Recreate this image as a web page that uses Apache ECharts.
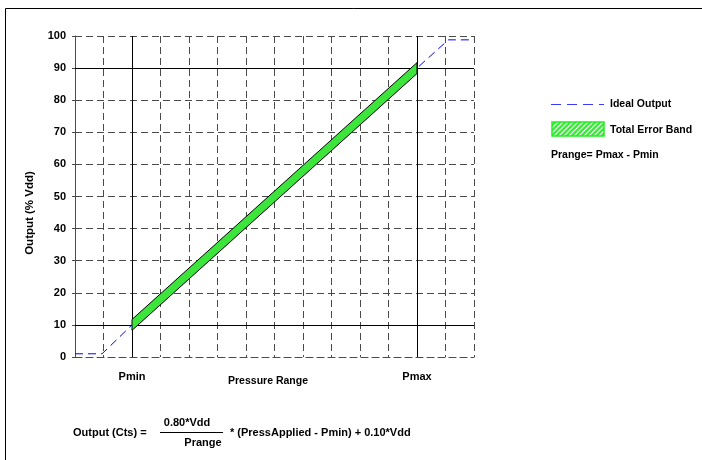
<!DOCTYPE html>
<html>
<head>
<meta charset="utf-8">
<script src="https://cdn.jsdelivr.net/npm/echarts@6/dist/echarts.min.js"></script>
<style>
html,body{margin:0;padding:0;background:#fff;}
#chart{width:702px;height:460px;}
</style>
</head>
<body>
<div id="chart"></div>
<script>
// ---- data ----
var yTicks = [0, 10, 20, 30, 40, 50, 60, 70, 80, 90, 100];
var xTickNames = { 2: 'Pmin', 12: 'Pmax' };
var refX = [2, 12];          // Pmin, Pmax
var refY = [10, 90];         // 10% and 90% Vdd
var idealX = [0, 0.95, 2, 12, 13.1, 14];
var idealY = [1, 1, 10, 90, 98.8, 98.8];
var bandX = [2, 12];
var bandLow = [8.3, 88.3];
var bandHigh = [11.7, 91.7];

var FONT = 'Liberation Sans, Arial, Helvetica, sans-serif';
var chart = echarts.init(document.getElementById('chart'), null, { renderer: 'canvas' });

var idealData = idealX.map(function (x, i) { return [x, idealY[i]]; });
var bandData = bandX.map(function (x, i) { return [x, bandLow[i], bandHigh[i]]; });

// hatch pattern for legend swatch
var pc = document.createElement('canvas');
pc.width = 5; pc.height = 5;
var pctx = pc.getContext('2d');
pctx.fillStyle = '#3be83b';
pctx.fillRect(0, 0, 5, 5);
pctx.strokeStyle = '#ffffff';
pctx.lineWidth = 1.2;
pctx.beginPath();
pctx.moveTo(0, 5); pctx.lineTo(5, 0);
pctx.moveTo(-1, 1); pctx.lineTo(1, -1);
pctx.moveTo(4, 6); pctx.lineTo(6, 4);
pctx.stroke();

var gridStyle = { color: '#4a4a4a', width: 1, type: [7, 4] };
var markData = [];
refX.forEach(function (x) { markData.push({ xAxis: x }); });
refY.forEach(function (y) { markData.push({ yAxis: y }); });

var option = {
  animation: false,
  backgroundColor: '#fff',
  grid: { left: 75, top: 36, right: 228, bottom: 103 },
  xAxis: {
    type: 'value', min: 0, max: 14, interval: 1,
    axisLine: { show: true, lineStyle: gridStyle },
    axisTick: { show: false },
    splitLine: { show: true, lineStyle: gridStyle },
    axisLabel: {
      margin: 14, color: '#000', fontFamily: FONT, fontWeight: 'bold', fontSize: 11,
      formatter: function (v) { return xTickNames[v] || ''; }
    }
  },
  yAxis: {
    type: 'value', min: 0, max: 100, interval: 10,
    axisLine: { show: true, lineStyle: gridStyle },
    axisTick: { show: true, length: 3, lineStyle: { color: '#4a4a4a' } },
    splitLine: { show: true, lineStyle: gridStyle },
    axisLabel: {
      margin: 9, color: '#000', fontFamily: FONT, fontWeight: 'bold', fontSize: 11,
      formatter: function (v) { return yTicks.indexOf(v) >= 0 ? String(v) : ''; }
    }
  },
  series: [
    {
      name: 'Ideal Output', type: 'line', data: idealData, symbol: 'none', z: 2,
      lineStyle: { color: '#0000ff', width: 1, type: [8, 5] },
      markLine: {
        silent: true, symbol: 'none', label: { show: false },
        lineStyle: { color: '#000', width: 1, type: 'solid' },
        data: markData
      }
    },
    {
      name: 'Total Error Band', type: 'custom', data: bandData, z: 5,
      renderItem: function (params, api) {
        var i = params.dataIndex;
        if (i >= bandData.length - 1) return null;
        var a = bandData[i], b = bandData[i + 1];
        var pts = [
          api.coord([a[0], a[1]]), api.coord([b[0], b[1]]),
          api.coord([b[0], b[2]]), api.coord([a[0], a[2]])
        ];
        return {
          type: 'polygon',
          shape: { points: pts },
          style: { fill: '#3ce43c', stroke: '#000', lineWidth: 1 }
        };
      }
    }
  ],
  graphic: [
    // outer frame
    { type: 'line', shape: { x1: 5.5, y1: 8.5, x2: 702, y2: 8.5 }, style: { stroke: '#000', lineWidth: 1 } },
    { type: 'line', shape: { x1: 5.5, y1: 8.5, x2: 5.5, y2: 460 }, style: { stroke: '#000', lineWidth: 1 } },
    // y axis title
    { type: 'text', x: 30, y: 213, rotation: Math.PI / 2,
      style: { text: 'Output (% Vdd)', fill: '#000', font: 'bold 11.5px ' + FONT, align: 'center', verticalAlign: 'middle' } },
    // x axis title
    { type: 'text', x: 268, y: 381,
      style: { text: 'Pressure Range', fill: '#000', font: 'bold 10.5px ' + FONT, align: 'center', verticalAlign: 'middle' } },
    // legend
    { type: 'line', shape: { x1: 551, y1: 104.5, x2: 604, y2: 104.5 }, style: { stroke: '#3a3aff', lineWidth: 1.2, lineDash: [10, 6] } },
    { type: 'text', x: 610, y: 104,
      style: { text: 'Ideal Output', fill: '#000', font: 'bold 10.5px ' + FONT, align: 'left', verticalAlign: 'middle' } },
    { type: 'rect', shape: { x: 552, y: 122, width: 52, height: 14 },
      style: { fill: { image: pc, repeat: 'repeat' }, stroke: '#22ee22', lineWidth: 1.5 } },
    { type: 'text', x: 610, y: 130,
      style: { text: 'Total Error Band', fill: '#000', font: 'bold 10.5px ' + FONT, align: 'left', verticalAlign: 'middle' } },
    { type: 'text', x: 551, y: 155,
      style: { text: 'Prange= Pmax - Pmin', fill: '#000', font: 'bold 10.5px ' + FONT, align: 'left', verticalAlign: 'middle' } },
    // formula
    { type: 'text', x: 73, y: 433,
      style: { text: 'Output (Cts) =', fill: '#000', font: 'bold 11px ' + FONT, align: 'left', verticalAlign: 'middle' } },
    { type: 'text', x: 187, y: 423,
      style: { text: '0.80*Vdd', fill: '#000', font: 'bold 11px ' + FONT, align: 'center', verticalAlign: 'middle' } },
    { type: 'line', shape: { x1: 160, y1: 432.5, x2: 223, y2: 432.5 }, style: { stroke: '#000', lineWidth: 1 } },
    { type: 'text', x: 203, y: 443,
      style: { text: 'Prange', fill: '#000', font: 'bold 11px ' + FONT, align: 'center', verticalAlign: 'middle' } },
    { type: 'text', x: 230, y: 433,
      style: { text: '* (PressApplied - Pmin) + 0.10*Vdd', fill: '#000', font: 'bold 11px ' + FONT, align: 'left', verticalAlign: 'middle' } }
  ]
};
chart.setOption(option);
</script>
</body>
</html>
